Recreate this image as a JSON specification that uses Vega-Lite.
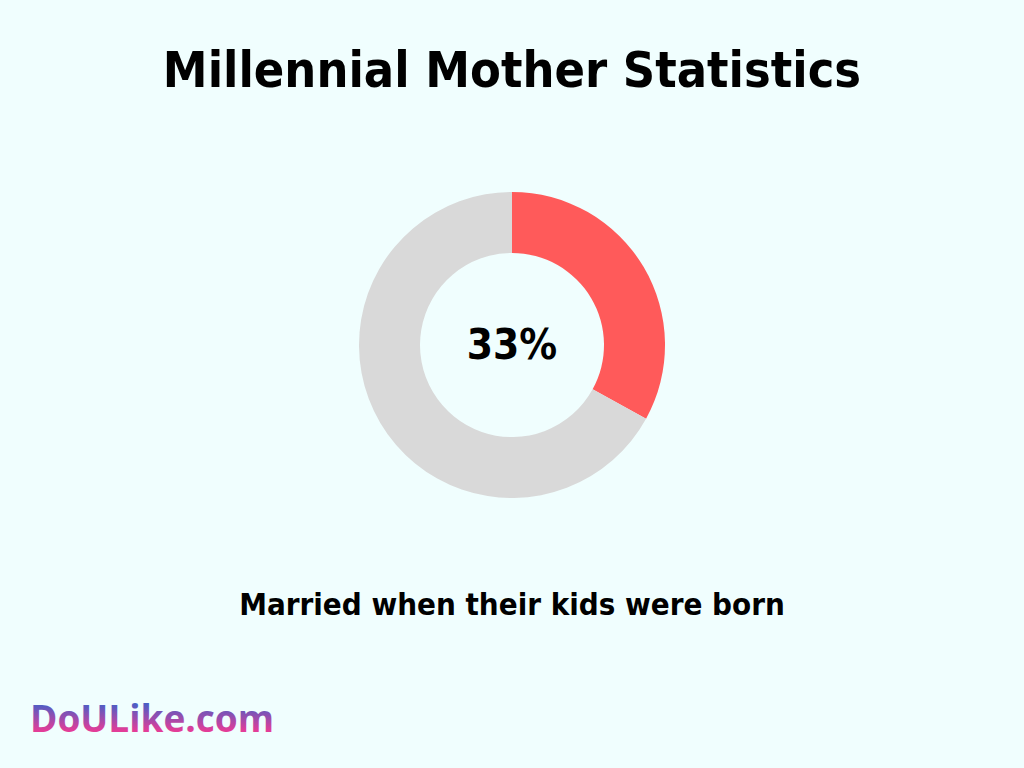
{
  "$schema": "https://vega.github.io/schema/vega-lite/v6.json",
  "width": 1024,
  "height": 690,
  "autosize": "none",
  "padding": {"top": 0, "bottom": 78, "left": 0, "right": 0},
  "background": "#f0fefe",
  "view": {"stroke": null},
  "datasets": {
    "slices": [
      {"category": "Married when their kids were born", "value": 33, "rank": 1},
      {"category": "Other", "value": 67, "rank": 2}
    ],
    "texts": [
      {"role": "title", "label": "Millennial Mother Statistics"},
      {"role": "center", "label": "33%"},
      {"role": "caption", "label": "Married when their kids were born"},
      {"role": "logo", "label": "DoULike.com"}
    ]
  },
  "layer": [
    {
      "data": {"name": "slices"},
      "mark": {"type": "arc", "outerRadius": 153, "innerRadius": 92},
      "encoding": {
        "theta": {"field": "value", "type": "quantitative", "stack": true},
        "order": {"field": "rank", "type": "quantitative"},
        "color": {
          "field": "category",
          "type": "nominal",
          "scale": {"domain": ["Married when their kids were born", "Other"], "range": ["#ff5a5a", "#d9d9d9"]},
          "legend": null
        }
      }
    },
    {
      "data": {"name": "texts"},
      "transform": [{"filter": "datum.role === 'title'"}],
      "mark": {"type": "text", "font": "DejaVu Sans Condensed", "fontWeight": "bold", "fontSize": 50, "baseline": "middle", "dy": -273, "color": "#000000"},
      "encoding": {"text": {"field": "label"}}
    },
    {
      "data": {"name": "texts"},
      "transform": [{"filter": "datum.role === 'center'"}],
      "mark": {"type": "text", "font": "DejaVu Sans Condensed", "fontWeight": "bold", "fontSize": 42, "baseline": "middle", "dy": 1, "color": "#000000"},
      "encoding": {"text": {"field": "label"}}
    },
    {
      "data": {"name": "texts"},
      "transform": [{"filter": "datum.role === 'caption'"}],
      "mark": {"type": "text", "font": "DejaVu Sans Condensed", "fontWeight": "bold", "fontSize": 31, "baseline": "middle", "dy": 261, "color": "#000000"},
      "encoding": {"text": {"field": "label"}}
    },
    {
      "data": {"name": "texts"},
      "transform": [{"filter": "datum.role === 'logo'"}],
      "mark": {
        "type": "text", "font": "Open Sans", "fontWeight": "bold", "fontSize": 37, "align": "left", "baseline": "middle", "dx": -482, "dy": 376,
        "color": {"gradient": "linear", "x1": 0, "y1": 0, "x2": 0, "y2": 1, "stops": [{"offset": 0.2, "color": "#4160c8"}, {"offset": 0.75, "color": "#e23d98"}]}
      },
      "encoding": {"text": {"field": "label"}}
    }
  ]
}
